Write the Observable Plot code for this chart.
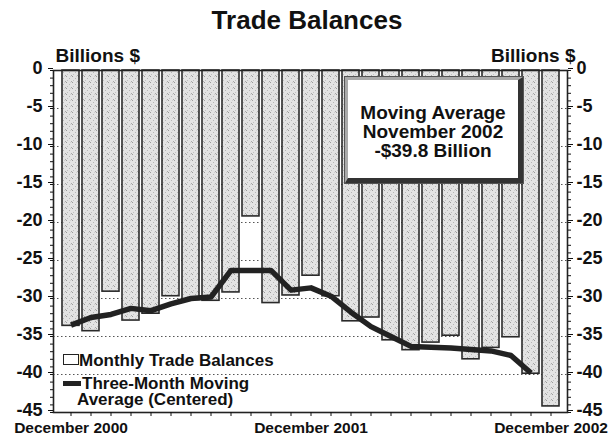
<!DOCTYPE html>
<html><head><meta charset="utf-8">
<script src="https://cdn.jsdelivr.net/npm/d3@7"></script>
<script src="https://cdn.jsdelivr.net/npm/@observablehq/plot@0.6"></script>
<style>
body{margin:0;background:#fff;font-family:"Liberation Sans",Arial,sans-serif;}
#wrap{position:relative;width:614px;height:438px;overflow:hidden;background:#fff;}
#title{position:absolute;left:0;top:0;width:614px;height:40px;text-align:center;font-weight:bold;font-size:26px;line-height:40px;color:#111;}
#chart{position:absolute;left:0;top:40px;}
.box{position:absolute;left:345px;top:77px;width:178px;height:106px;box-sizing:border-box;background:#fff;
 border-style:solid;border-width:3px 5px 5px 3px;border-color:#aaa #333 #333 #aaa;box-shadow:0 0 0 1px #555;
 text-align:center;font-weight:bold;font-size:19px;line-height:19px;color:#111;padding-top:23px;}
.leg{position:absolute;font-weight:bold;font-size:17px;line-height:15.5px;color:#111;}
.sw1{position:absolute;left:63px;top:354px;width:14px;height:9px;border:1.5px solid #222;background:#fff;}
.sw2{position:absolute;left:63px;top:381px;width:18px;height:5px;background:#222;}
</style></head><body>
<div id="wrap">
  <div id="title">Trade Balances</div>
  <div id="chart"></div>
  <div class="sw1"></div>
  <div class="leg" style="left:79px;top:353px;white-space:nowrap;">Monthly Trade Balances</div>
  <div class="sw2"></div>
  <div class="leg" style="left:77px;top:376px;width:185px;text-indent:5px;">Three-Month Moving Average (Centered)</div>
  <div class="box">Moving Average<br>November 2002<br>-$39.8 Billion</div>
</div>
<script>
const months = ["2000-12","2001-01","2001-02","2001-03","2001-04","2001-05","2001-06","2001-07","2001-08","2001-09","2001-10","2001-11","2001-12",
  "2002-01","2002-02","2002-03","2002-04","2002-05","2002-06","2002-07","2002-08","2002-09","2002-10","2002-11","2002-12"];
const balances = [-33.6,-34.3,-29.1,-32.9,-32.0,-29.7,-30.2,-30.3,-29.2,-19.2,-30.6,-29.6,-27.0,
  -29.7,-33.0,-32.5,-35.5,-36.8,-35.8,-34.9,-38.0,-36.5,-35.1,-39.9,-44.2];
const maMonths = months.slice(0, 24);
const movingAvg = [-33.5,-32.5,-32.1,-31.3,-31.6,-30.7,-30.0,-29.8,-26.3,-26.3,-26.3,-28.9,-28.6,
  -29.7,-31.8,-33.7,-35.0,-36.3,-36.4,-36.5,-36.7,-36.9,-37.5,-39.8];
const yTicks = [0,-5,-10,-15,-20,-25,-30,-35,-40,-45];
const gridLevels = [-5,-10,-15,-20,-25,-30,-35,-40];
const xLabels = {"2000-12":"December 2000","2001-12":"December 2001","2002-12":"December 2002"};

const barData = months.map((m, i) => ({month: m, value: balances[i]}));
const maData = maMonths.map((m, i) => ({month: m, value: movingAvg[i]}));
const minorY = d3.range(-45, 1, 1);

const fmt = d => String(d);

const plot = Plot.plot({
  width: 614,
  height: 398,
  marginTop: 30,
  marginBottom: 26,
  marginLeft: 53,
  marginRight: 47,
  style: {fontFamily: "Liberation Sans, Arial, sans-serif", fontWeight: "bold", color: "#111", background: "transparent"},
  x: {type: "band", domain: months, paddingInner: 0.15, paddingOuter: 0.07, label: null},
  y: {domain: [-45, 0], label: null},
  marks: [
    Plot.ruleY(gridLevels, {stroke: "#555", strokeDasharray: "1.5,2.5", strokeWidth: 1}),
    Plot.barY(barData, {x: "month", y: "value", fill: "url(#stip)", stroke: "#2a2a2a", strokeWidth: 1.6}),
    Plot.lineY(maData, {x: "month", y: "value", stroke: "#222", strokeWidth: 5.5, strokeLinejoin: "round", strokeLinecap: "butt"}),
    Plot.frame({stroke: "#222", strokeWidth: 1.6}),
    Plot.axisY({anchor: "left", ticks: minorY, tickSize: 3, tickFormat: () => ""}),
    Plot.axisY({anchor: "right", ticks: minorY, tickSize: 3, tickFormat: () => ""}),
    Plot.axisY({anchor: "left", ticks: yTicks, tickSize: 5, tickPadding: 6, tickFormat: fmt, fontSize: 18, fontWeight: "bold", dy: -2}),
    Plot.axisY({anchor: "right", ticks: yTicks, tickSize: 5, tickPadding: 4, tickFormat: fmt, fontSize: 18, fontWeight: "bold", dy: -2}),
    Plot.axisX({ticks: months, tickSize: 4, tickPadding: 5, tickFormat: d => xLabels[d] ?? "", fontSize: 15.5, fontWeight: "bold"}),
    Plot.text(["Billions $"], {frameAnchor: "top-left", dx: 2, dy: -22, textAnchor: "start", fontSize: 19, fontWeight: "bold"}),
    Plot.text(["Billions $"], {frameAnchor: "top-right", dx: 8, dy: -22, textAnchor: "end", fontSize: 19, fontWeight: "bold"})
  ]
});

// stippled fill pattern for the bars
const ns = "http://www.w3.org/2000/svg";
const defs = document.createElementNS(ns, "defs");
const pat = document.createElementNS(ns, "pattern");
pat.setAttribute("id", "stip");
pat.setAttribute("patternUnits", "userSpaceOnUse");
pat.setAttribute("width", "6");
pat.setAttribute("height", "6");
const bg = document.createElementNS(ns, "rect");
bg.setAttribute("width", "6"); bg.setAttribute("height", "6"); bg.setAttribute("fill", "#e3e3e3");
pat.appendChild(bg);
[[0,0,"#9a9a9a"],[3,2,"#b5b5b5"],[1,4,"#c0c0c0"],[5,5,"#a8a8a8"],[4,0,"#cfcfcf"]].forEach(([x,y,c]) => {
  const r = document.createElementNS(ns, "rect");
  r.setAttribute("x", x); r.setAttribute("y", y); r.setAttribute("width", "1"); r.setAttribute("height", "1"); r.setAttribute("fill", c);
  pat.appendChild(r);
});
defs.appendChild(pat);
plot.insertBefore(defs, plot.firstChild);
document.getElementById("chart").appendChild(plot);
</script>
</body></html>
